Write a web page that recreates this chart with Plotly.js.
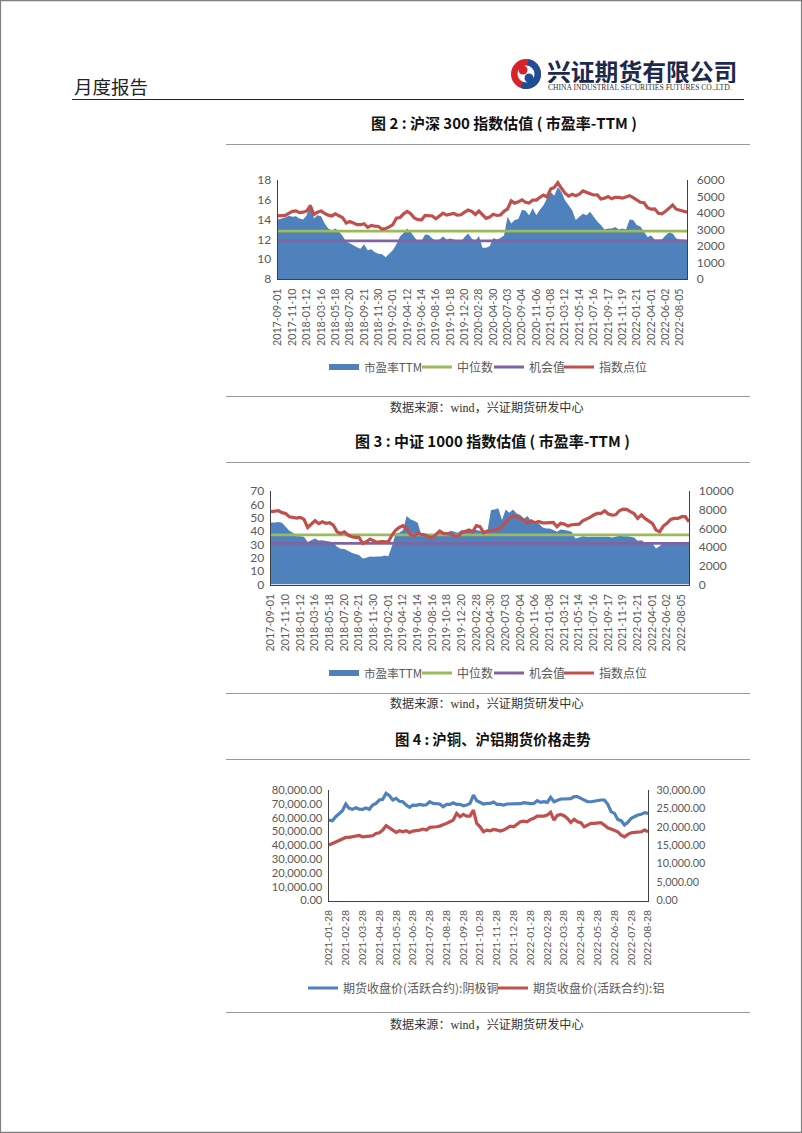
<!DOCTYPE html>
<html><head><meta charset="utf-8">
<script src="https://cdn.plot.ly/plotly-3.0.1.min.js"></script>
<style>html,body{margin:0;padding:0;background:#fff}#c{width:802px;height:1133px}</style>
</head><body><div id="c"></div>
<script>
const hs300Ticks=["2017-09-01","2017-11-10","2018-01-12","2018-03-16","2018-05-18","2018-07-20","2018-09-21","2018-11-30","2019-02-01","2019-04-12","2019-06-14","2019-08-16","2019-10-18","2019-12-20","2020-02-28","2020-04-30","2020-07-03","2020-09-04","2020-11-06","2021-01-08","2021-03-12","2021-05-14","2021-07-16","2021-09-17","2021-11-19","2022-01-21","2022-04-01","2022-06-02","2022-08-05"];
const csi1000Ticks=["2017-09-01","2017-11-10","2018-01-12","2018-03-16","2018-05-18","2018-07-20","2018-09-21","2018-11-30","2019-02-01","2019-04-12","2019-06-14","2019-08-16","2019-10-18","2019-12-20","2020-02-28","2020-04-30","2020-07-03","2020-09-04","2020-11-06","2021-01-08","2021-03-12","2021-05-14","2021-07-16","2021-09-17","2021-11-19","2022-01-21","2022-04-01","2022-06-02","2022-08-05"];
const metalTicks=["2021-01-28","2021-02-28","2021-03-28","2021-04-28","2021-05-28","2021-06-28","2021-07-28","2021-08-28","2021-09-28","2021-10-28","2021-11-28","2021-12-28","2022-01-28","2022-02-28","2022-03-28","2022-04-28","2022-05-28","2022-06-28","2022-07-28","2022-08-28"];

const hs300PE=[14.0,14.1,14.2,14.4,14.3,14.35,14.1,14.0,14.45,15.6,14.1,14.45,14.35,13.6,13.1,12.9,13.1,12.8,12.35,11.75,11.6,11.4,11.2,11.05,11.5,10.9,11.0,10.7,10.55,10.5,10.2,10.55,10.9,11.5,12.3,12.65,13.1,12.75,12.25,11.75,11.85,12.5,12.45,12.1,11.9,12.0,12.3,12.0,12.1,12.0,11.9,11.75,12.25,12.6,12.1,11.85,12.35,11.15,11.15,11.3,12.15,12.0,12.15,12.4,14.3,13.6,13.95,14.05,15.0,14.9,14.45,15.15,14.45,15.0,15.45,16.15,16.8,16.4,17.3,16.8,15.95,15.45,14.95,13.95,14.3,14.6,14.45,14.8,14.3,13.8,13.45,13.0,13.1,13.1,13.25,13.0,13.1,13.0,14.0,13.95,13.45,13.3,12.8,12.25,12.4,12.0,12.0,12.0,12.4,12.7,12.6,12.1,12.0,12.0,11.9];
const hs300Index=[3830,3850,3850,3980,4100,4130,4020,4050,4120,4450,3900,4050,4120,3980,3870,3820,3950,3830,3720,3400,3490,3400,3290,3290,3350,3130,3250,3200,3180,3020,3060,3160,3290,3680,3720,3950,4100,3960,3700,3600,3580,3850,3830,3820,3650,3850,3990,3870,3900,3970,3870,3890,4050,4180,4100,3910,4120,3900,3680,3760,3920,3850,3880,4100,4250,4740,4600,4680,4800,4650,4600,4780,4780,4950,5090,4970,5450,5550,5840,5500,5200,5020,5130,5050,5140,5340,5230,5170,5090,5100,4850,4900,5000,4860,4950,4950,4900,4950,5050,4930,4800,4650,4620,4320,4230,4250,3980,3950,4100,4300,4480,4230,4180,4130,4050];
const hs300Median=12.83, hs300Chance=11.85;

const csi1000PE=[46.5,46.5,46.8,46.2,43.2,40.2,38.8,36.2,36.2,35.8,31.8,33.2,34.5,33.0,33.2,32.5,32.2,31.5,28.2,26.8,26.5,25.2,23.8,22.8,22.0,19.5,20.0,21.0,20.8,21.0,21.0,21.8,21.2,28.8,38.2,38.8,40.8,51.2,48.8,47.8,46.2,37.0,36.2,36.2,37.0,38.2,40.8,38.8,38.8,40.2,39.5,38.8,40.8,40.2,40.2,41.2,40.8,40.2,38.8,39.5,55.8,56.2,57.0,48.2,56.2,53.8,56.2,53.2,52.0,49.5,51.2,47.0,45.8,45.8,42.8,42.0,42.0,40.8,39.5,41.2,40.8,40.2,39.5,34.5,35.2,36.2,35.8,35.8,35.8,35.8,35.8,35.8,35.8,35.2,35.8,36.5,36.2,36.2,35.8,35.2,32.8,33.2,31.5,30.8,30.8,27.0,28.8,30.8,30.8,30.8,30.8,30.8,30.8,30.8,30.8];
const csi1000Index=[7800,7850,7900,7680,7600,7250,7180,7100,7180,6960,6100,6430,6820,6500,6700,6540,6600,6360,5640,5460,5640,5290,5100,5040,5040,4390,4570,4860,4640,4500,4600,4570,4570,5290,5820,6100,6290,6000,5360,5180,5460,5360,5290,5110,5040,5360,5710,5460,5390,5390,5210,5180,5540,5640,5820,5640,6290,6180,5540,5710,5750,5820,5930,6180,6710,7070,7320,7320,7070,6890,6600,6820,6600,6750,6600,6600,6640,6640,6180,6540,6460,6250,6390,6460,6460,6820,6960,7180,7430,7600,7600,7890,7540,7430,7460,7890,8070,8040,7790,7600,7070,7430,7070,6820,6540,5820,5640,6250,6540,6960,7070,7070,7250,7250,6710];
const csi1000Median=37.2, csi1000Chance=30.75;

const copperPrice=[58250,57770,60670,62600,65000,69850,66700,66000,67200,66200,66000,66950,66000,69100,70300,72750,73200,77600,75900,72750,73950,71800,71500,69100,67400,69100,68900,69600,69100,69300,71500,70300,69850,69850,67900,69600,69600,70800,69600,69600,68600,69100,70300,76400,72250,70800,69850,70300,70300,71300,69600,69600,69100,69850,69850,70300,70300,70100,70800,70300,70100,70300,72250,71000,71500,71000,74700,71500,72250,73500,73500,73700,73700,75200,75200,73950,72750,71500,71500,72000,72000,72750,72750,69850,64300,63100,58700,57800,54600,56600,59500,60700,61900,62400,63600,63100];
const aluminumPrice=[15040,15490,15950,16400,16670,17120,17120,17300,17490,17670,17300,17300,17490,17580,18210,18390,19120,20290,19750,19120,18480,18930,18660,18930,18480,18840,18930,19120,19390,19120,19840,19840,20020,20200,20480,20930,21380,21830,23650,22740,23370,22920,22920,24550,20930,20020,18660,19120,18930,19300,19120,18840,19120,19750,20200,20020,20660,21380,21560,21380,22020,22290,22920,22920,22920,23190,23920,21830,23100,23370,23010,22290,21200,22020,21380,21110,20020,20480,20930,20930,20930,21110,20480,19750,19390,18930,18660,17760,17300,17940,18390,18480,18660,18660,19120,18660];

const peLegendNames=["市盈率TTM","中位数","机会值","指数点位"];
const metalLegendNames=["期货收盘价(活跃合约):阴极铜","期货收盘价(活跃合约):铝"];

const catBlue="#4F81BD",green="#9BBB59",purple="#8064A2",red="#C0504D",tickGrey="#595959";
const W=802,H=1133;
const fx=p=>p/W, fy=p=>1-p/H;
const fontLat="Lato, 'Noto Sans CJK SC', sans-serif";
const cjk="'Noto Sans CJK SC', sans-serif";
const serif="'Liberation Serif','Noto Sans CJK SC',serif";

function idx(a){return a.map((_,i)=>i);}
function cons(a,v){return a.map(()=>v);}

function peChart(pe,index,median,chance,n,lg){
  const xa=n===1?"x":"x"+n;
  const yL=n===1?"y":"y"+(2*n-1), yR="y"+(2*n);
  const X=idx(pe);
  return [
    {x:X,y:pe,name:peLegendNames[0],type:"scatter",mode:"none",fill:"tozeroy",fillcolor:catBlue,xaxis:xa,yaxis:yL,legend:lg[0],hoverinfo:"skip"},
    {x:X,y:cons(pe,median),name:peLegendNames[1],type:"scatter",mode:"lines",line:{color:green,width:2.8},xaxis:xa,yaxis:yL,legend:lg[1],hoverinfo:"skip"},
    {x:X,y:cons(pe,chance),name:peLegendNames[2],type:"scatter",mode:"lines",line:{color:purple,width:2.8},xaxis:xa,yaxis:yL,legend:lg[2],hoverinfo:"skip"},
    {x:X,y:index,name:peLegendNames[3],type:"scatter",mode:"lines",line:{color:red,width:3.2},xaxis:xa,yaxis:yR,legend:lg[3],hoverinfo:"skip"}
  ];
}
const data=[
  ...peChart(hs300PE,hs300Index,hs300Median,hs300Chance,1,["legend","legend2","legend3","legend4"]),
  ...peChart(csi1000PE,csi1000Index,csi1000Median,csi1000Chance,2,["legend5","legend6","legend7","legend8"]),
  {x:idx(copperPrice),y:copperPrice,name:metalLegendNames[0],type:"scatter",mode:"lines",line:{color:catBlue,width:3.2},xaxis:"x3",yaxis:"y5",legend:"legend9",hoverinfo:"skip"},
  {x:idx(aluminumPrice),y:aluminumPrice,name:metalLegendNames[1],type:"scatter",mode:"lines",line:{color:red,width:3.2},xaxis:"x3",yaxis:"y6",legend:"legend10",hoverinfo:"skip"}
];

const axisLine="#404040";
function xAxis(box,ticks,step,anchor,last,size,off){
  return {domain:[fx(box[0]),fx(box[1])],anchor:anchor,range:[0,last],tickmode:"array",
    tickvals:ticks.map((_,i)=>i*step),ticktext:ticks,tickangle:-90,showgrid:false,zeroline:false,ticklabelstandoff:off,
    showline:true,linecolor:axisLine,linewidth:1.2,ticks:"",tickfont:{family:fontLat,size:size,color:tickGrey},automargin:false,fixedrange:true};
}
function yAxis(box,range,dtick,overlay,fmt,size,xa,off){
  const o={domain:[fy(box[3]),fy(box[2])],range:range,dtick:dtick,tick0:0,showgrid:false,zeroline:false,showline:true,linecolor:axisLine,linewidth:1.4,ticklabelstandoff:off,
    ticks:"",tickfont:{family:fontLat,size:size,color:tickGrey},anchor:xa,automargin:false,fixedrange:true,tickformat:fmt||"d"};
  if(overlay){o.overlaying=overlay;o.side="right";}
  return o;
}
const box1=[278,687,180,279], box2=[271,689,491,584.5], box3=[329,648,790,900.5];

const titles=[["图 2 : 沪深 300 指数估值 ( 市盈率-TTM )",504,122,15],["图 3 : 中证 1000 指数估值 ( 市盈率-TTM )",493,441,15],["图 4 : 沪铜、沪铝期货价格走势",493,738,14.4]];
const sources=[[487,408],[487,704],[487,1024]];
const annotations=[
  ...titles.map(t=>({text:t[0],x:fx(t[1]),y:fy(t[2]),xref:"paper",yref:"paper",xanchor:"center",yanchor:"middle",showarrow:false,font:{family:cjk,size:t[3],color:"#111",weight:700}})),
  ...sources.map(s=>({text:"数据来源：wind，兴证期货研发中心",x:fx(s[0]),y:fy(s[1]),xref:"paper",yref:"paper",xanchor:"center",yanchor:"middle",showarrow:false,font:{family:serif,size:12.1,color:"#333"}})),
  {text:"月度报告",x:fx(72),y:fy(86),xref:"paper",yref:"paper",xanchor:"left",yanchor:"middle",showarrow:false,font:{family:cjk,size:18.5,color:"#222"}},
  {text:"<b>兴证期货有限公司</b>",x:fx(545),y:fy(70.5),xref:"paper",yref:"paper",xanchor:"left",yanchor:"middle",height:25,showarrow:false,font:{family:cjk,size:23.8,color:"#1d2a4d"}},
  {text:"CHINA INDUSTRIAL SECURITIES FUTURES CO.,LTD.",x:fx(546),y:fy(87.5),xref:"paper",yref:"paper",xanchor:"left",yanchor:"middle",showarrow:false,font:{family:"'Liberation Serif',serif",size:7.6,color:"#333"}}
];
function rule(x0,x1,y,c,w){return {type:"line",xref:"paper",yref:"paper",x0:fx(x0),x1:fx(x1),y0:fy(y),y1:fy(y),line:{color:c,width:w}};}
function circle(cx,cy,rx,ry,c){return {type:"circle",xref:"paper",yref:"paper",x0:fx(cx-rx),x1:fx(cx+rx),y0:fy(cy+ry),y1:fy(cy-ry),fillcolor:c,line:{width:0}};}
function arcPath(cx,cy,r,a0,a1){let s="";for(let i=0;i<=24;i++){const a=(a0+(a1-a0)*i/24)*Math.PI/180;s+=(i?"L":"M")+fx(cx+r*Math.cos(a))+","+fy(cy+r*Math.sin(a));}return s;}
const lx=526,ly=74;
const shapes=[
  {type:"rect",xref:"paper",yref:"paper",x0:0.0006,x1:0.9994,y0:0.0006,y1:0.9994,line:{color:"#7f7f7f",width:1.2},fillcolor:"rgba(0,0,0,0)"},
  rule(72,744,99.5,"#222",1.2),
  rule(226,750,144.5,"#999",1.2),rule(226,750,396.5,"#999",1.2),rule(226,750,462.5,"#999",1.2),rule(226,750,693.5,"#999",1.2),rule(226,750,759.5,"#999",1.2),rule(226,750,1012.5,"#999",1.2),
  circle(lx,ly,15,15,"#d8232a"),
  {type:"path",xref:"paper",yref:"paper",path:arcPath(lx,ly,15,-80,110)+"Z",fillcolor:"#1f4e96",line:{width:0}},
  circle(lx,ly,8.5,8.5,"#ffffff"),
  circle(lx+3,ly+4,4.5,4.5,"#1f4e96"),
  circle(lx-3,ly-4,4.5,4.5,"#d8232a")
];
function lgd(px,py,size){return {orientation:"h",x:fx(px),y:fy(py),xanchor:"left",yanchor:"middle",font:{family:cjk,size:size||12,color:tickGrey},bgcolor:"rgba(0,0,0,0)",itemwidth:30};}
const layout={width:W,height:H,margin:{l:0,r:0,t:0,b:0,pad:0},paper_bgcolor:"#fff",plot_bgcolor:"rgba(0,0,0,0)",showlegend:true,
  font:{family:fontLat},
  xaxis:xAxis(box1,hs300Ticks,4,"y",114,10.7,4),
  yaxis:yAxis(box1,[8,18],2,null,"",12,"x",3),
  yaxis2:yAxis(box1,[0,6000],1000,"y","",12,"x",6),
  xaxis2:xAxis(box2,csi1000Ticks,4,"y3",114,10.7,4),
  yaxis3:yAxis(box2,[0,70],10,null,"",12,"x2",3),
  yaxis4:yAxis(box2,[0,10000],2000,"y3","",12,"x2",6),
  xaxis3:xAxis(box3,metalTicks,5,"y5",95,10.4,4),
  yaxis5:yAxis(box3,[0,80000],10000,null,",.2f",11.2,"x3",3),
  yaxis6:yAxis(box3,[0,30000],5000,"y5",",.2f",10.8,"x3",5),
  legend:lgd(324,367,11.6),legend2:lgd(417,367),legend3:lgd(489,367),legend4:lgd(559,367),
  legend5:lgd(324,673,11.6),legend6:lgd(417,673),legend7:lgd(489,673),legend8:lgd(559,673),
  legend9:lgd(303,988),legend10:lgd(493,988),
  annotations:annotations,shapes:shapes
};
Plotly.newPlot("c",data,layout,{displayModeBar:false,staticPlot:true});
</script></body></html>
